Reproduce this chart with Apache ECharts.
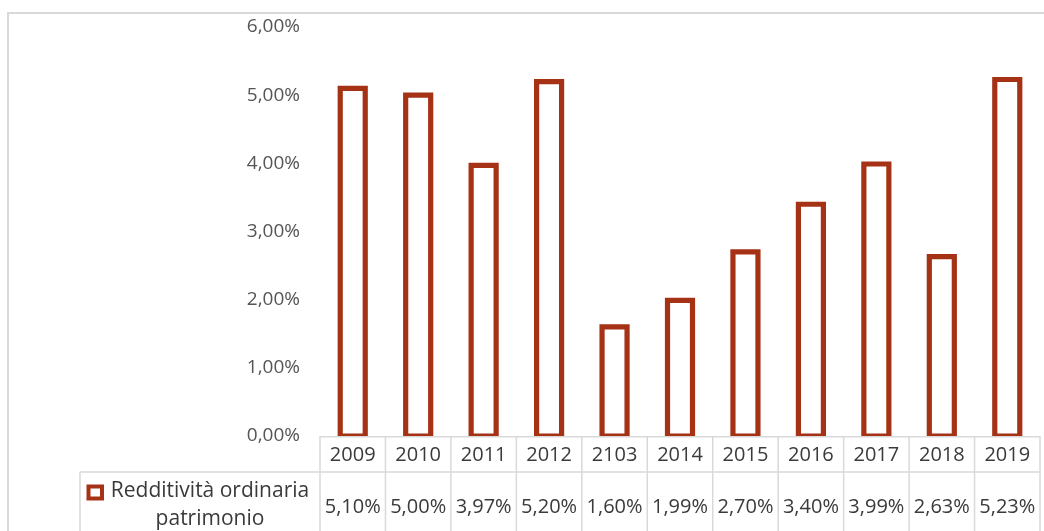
<!DOCTYPE html>
<html>
<head>
<meta charset="utf-8">
<script src="https://cdn.jsdelivr.net/npm/echarts@6/dist/echarts.min.js"></script>
<style>
  html, body { margin: 0; padding: 0; background: #fff; }
  #chart { width: 1044px; height: 531px; }
</style>
</head>
<body>
<div id="chart"></div>
<script>
// Return on equity by year (percent)
const years = ['2009', '2010', '2011', '2012', '2103', '2014', '2015', '2016', '2017', '2018', '2019'];
const redditivita = [5.10, 5.00, 3.97, 5.20, 1.60, 1.99, 2.70, 3.40, 3.99, 2.63, 5.23];
const seriesLabelLines = ['Redditività ordinaria', 'patrimonio'];
const yMin = 0, yMax = 6, yStep = 1;

const BAR_COLOR = '#A63216';
const GRID_LINE = '#D9D9D9';
const TEXT_DARK = '#3A3A3A';
const TEXT_AXIS = '#555555';
const FONT = '"Open Sans", Lato, sans-serif';
const BAR_W = 25;

const fmtPct = v => v.toFixed(2).replace('.', ',') + '%';

const chart = echarts.init(document.getElementById('chart'), null, { renderer: 'canvas' });

chart.setOption({
  animation: false,
  backgroundColor: '#fff',
  grid: { left: 320, right: 4, top: 27, bottom: 95, containLabel: false },
  xAxis: {
    type: 'category',
    data: years,
    axisLine: { show: false },
    axisTick: { show: false },
    axisLabel: { show: false },
    splitLine: { show: false }
  },
  yAxis: {
    type: 'value',
    min: yMin,
    max: yMax,
    interval: yStep,
    axisLine: { show: false },
    axisTick: { show: false },
    splitLine: { show: false },
    axisLabel: {
      margin: 20,
      color: TEXT_AXIS,
      fontFamily: FONT,
      fontSize: 19,
      formatter: v => fmtPct(v)
    }
  },
  series: [{
    // hollow columns: outline centred on the value edge
    type: 'custom',
    name: seriesLabelLines.join(' '),
    data: redditivita.map((v, i) => [i, v]),
    clip: true,
    z: 5,
    renderItem: (params, api) => {
      const top = api.coord([api.value(0), api.value(1)]);
      const base = api.coord([api.value(0), 0]);
      return {
        type: 'rect',
        shape: { x: top[0] - BAR_W / 2, y: top[1], width: BAR_W, height: base[1] - top[1] },
        style: { fill: '#FFFFFF', stroke: BAR_COLOR, lineWidth: 5.2 }
      };
    }
  }]
});

// Data table under the plot, aligned to the category axis
function buildTable() {
  const c0 = chart.convertToPixel({ xAxisIndex: 0 }, 0);
  const c1 = chart.convertToPixel({ xAxisIndex: 0 }, 1);
  const step = c1 - c0;
  const left = c0 - step / 2;
  const right = left + step * years.length;
  const top = chart.convertToPixel({ yAxisIndex: 0 }, 0);
  const rowH = 36;
  const mid = top + rowH;
  const bottom = mid + 80;
  const legendLeft = 80;

  const lineStyle = { stroke: GRID_LINE, lineWidth: 1.5 };
  const els = [];
  const hline = (x1, x2, y) => els.push({ type: 'line', z: 1, shape: { x1, y1: y, x2, y2: y }, style: lineStyle });
  const vline = (x, y1, y2) => els.push({ type: 'line', z: 1, shape: { x1: x, y1, x2: x, y2 }, style: lineStyle });

  // outer chart frame
  els.push({ type: 'rect', z: 0, shape: { x: 8, y: 13, width: 1200, height: 700 },
             style: { fill: 'none', stroke: GRID_LINE, lineWidth: 2 } });

  hline(left, right, top + 0.8);
  hline(legendLeft, right, mid);
  vline(legendLeft, mid, bottom);
  for (let i = 0; i <= years.length; i++) vline(left + i * step, top, bottom);

  years.forEach((y, i) => {
    const cx = left + (i + 0.5) * step;
    els.push({ type: 'text', z: 3, x: cx, y: top + rowH / 2 + 1,
      style: { text: y, fill: TEXT_DARK, font: '20px ' + FONT, align: 'center', verticalAlign: 'middle' } });
    els.push({ type: 'text', z: 3, x: cx, y: mid + 35,
      style: { text: fmtPct(redditivita[i]), fill: TEXT_DARK, font: '20px ' + FONT, align: 'center', verticalAlign: 'middle' } });
  });

  // series key and name
  els.push({ type: 'rect', z: 3, shape: { x: 88.5, y: 486.5, width: 13.5, height: 12 },
             style: { fill: '#fff', stroke: BAR_COLOR, lineWidth: 4 } });
  els.push({ type: 'text', z: 3, x: 210, y: 491,
    style: { text: seriesLabelLines[0], fill: TEXT_DARK, font: '21px ' + FONT, align: 'center', verticalAlign: 'middle' } });
  els.push({ type: 'text', z: 3, x: 210, y: 519,
    style: { text: seriesLabelLines[1], fill: TEXT_DARK, font: '21px ' + FONT, align: 'center', verticalAlign: 'middle' } });

  chart.setOption({ graphic: els });
}
buildTable();
</script>
</body>
</html>
